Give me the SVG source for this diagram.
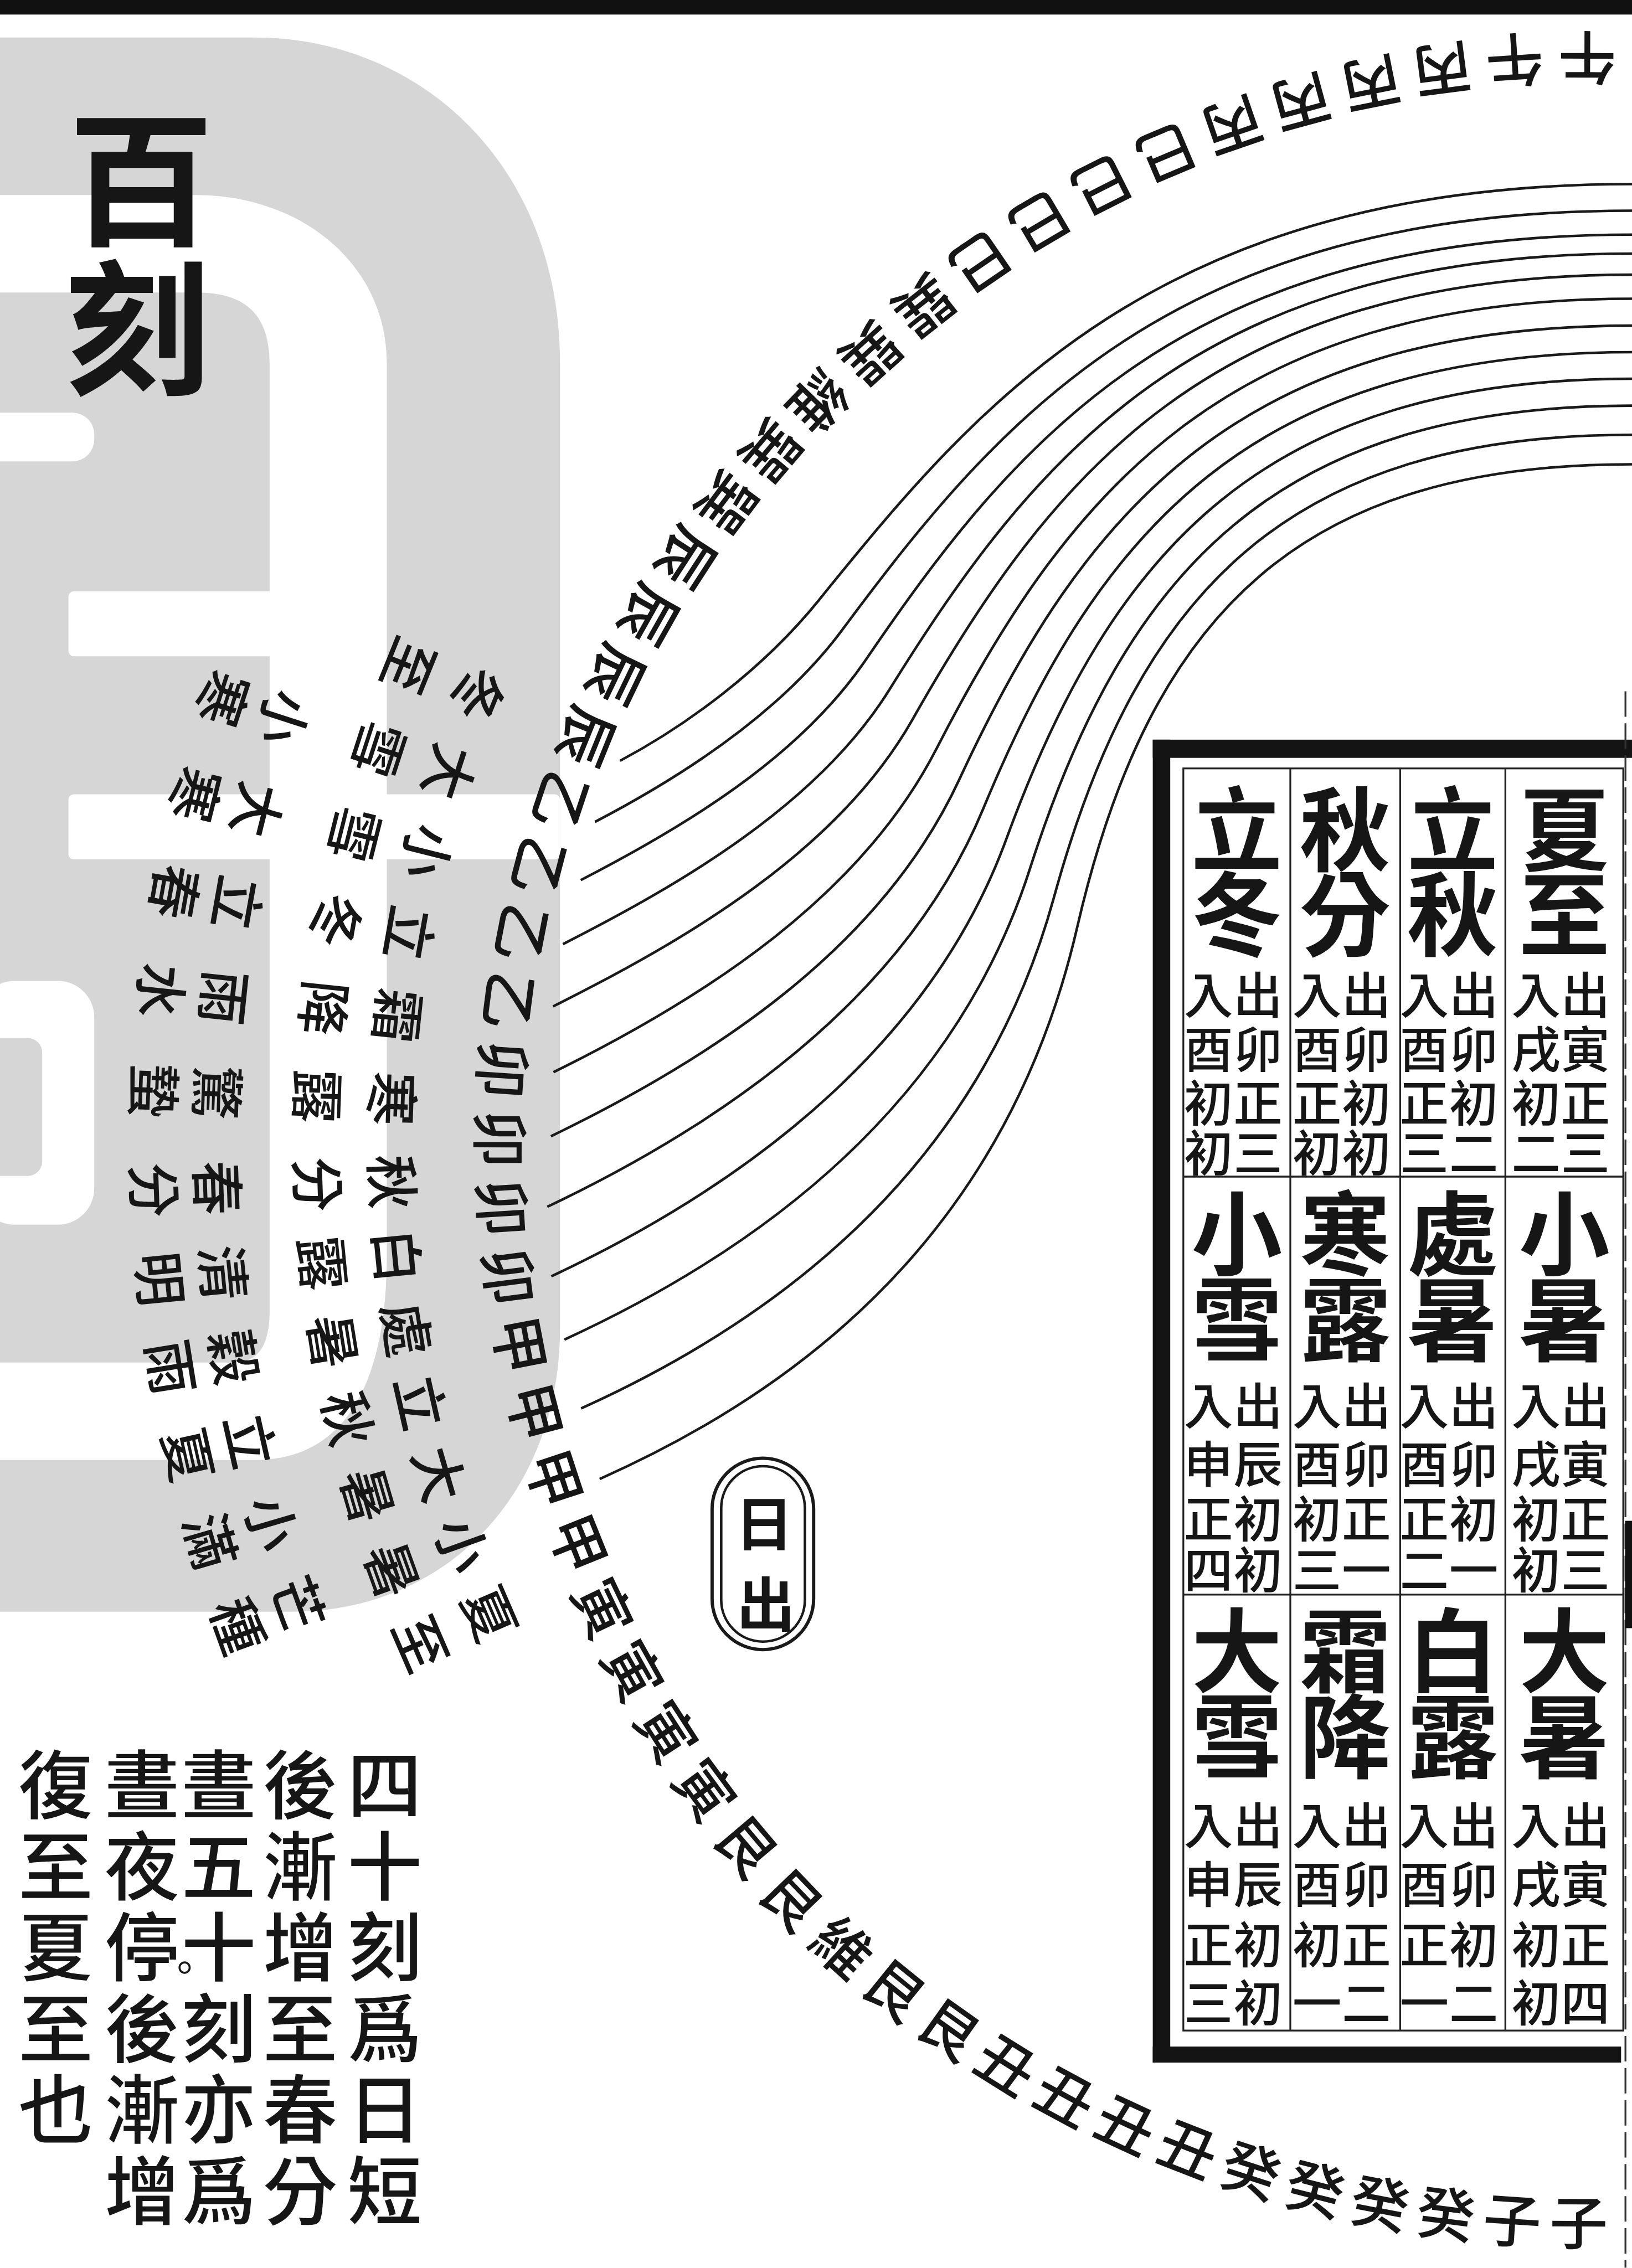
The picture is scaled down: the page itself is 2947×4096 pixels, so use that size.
<svg xmlns="http://www.w3.org/2000/svg" width="2947" height="4096" viewBox="0 0 2947 4096">
<style>
.t{font-family:"Noto Sans CJK TC","Noto Sans CJK SC","Noto Sans CJK JP",sans-serif;fill:#161616;text-anchor:middle;dominant-baseline:central}
.d{font-size:160px;font-weight:500}
.n{font-size:150px;font-weight:500}
.big{font-size:250px;font-weight:bold}
.sm{font-size:135px;font-weight:500}
.title{font-size:400px;font-weight:bold}
.note{font-size:205px;font-weight:500}
.lbl{font-size:160px;font-weight:bold}
.c{fill:none;stroke:#1a1a1a;stroke-width:7}
.tl{stroke:#222;stroke-width:5;fill:none}
</style>
<rect width="2947" height="4096" fill="#ffffff"/>
<g transform="scale(0.65708)">
<rect x="0" y="0" width="4485" height="40" fill="#111"/>
<g id="seal">
<path d="M-20,103 H700 C1150,103 1539,450 1539,1000 V3650 C1539,4100 1230,4430 800,4430 H-20 Z" fill="#d6d6d6"/>
<path d="M-20,536 H540 C820,536 1063,720 1063,1000 V3450 C1063,3800 950,4013 700,4013 H-20 V3745 H640 C710,3745 741,3700 741,3600 V1000 C741,870 680,804 540,804 H-20 Z" fill="#fff"/>
<rect x="-60" y="1134" width="319" height="134" rx="60" fill="#fff"/>
<rect x="188" y="1625" width="600" height="179" rx="15" fill="#fff"/>
<rect x="188" y="2183" width="1351" height="179" rx="15" fill="#fff"/>
<rect x="-60" y="2696" width="319" height="670" rx="100" fill="#fff"/>
<rect x="-60" y="2853" width="176" height="379" rx="40" fill="#d6d6d6"/>
</g>
<g id="title">
<text class="t title" x="388" y="470">百</text>
<text class="t title" x="378" y="880">刻</text>
</g>
<g id="connectors">
<path class="c" d="M4485,506 C3185,506 2690,1106 2250,1650 C2093,1844 1881,1997 1704,2091"/>
<path class="c" d="M4485,579 C3221,579 2743,1155 2314,1732 C2141,1965 1861,2141 1635,2259"/>
<path class="c" d="M4485,645 C3258,645 2794,1205 2379,1814 C2192,2088 1871,2277 1596,2419"/>
<path class="c" d="M4485,697 C3294,697 2842,1255 2444,1896 C2247,2212 1871,2430 1547,2595"/>
<path class="c" d="M4485,755 C3330,755 2889,1305 2508,1977 C2304,2337 1894,2579 1520,2766"/>
<path class="c" d="M4485,821 C3367,821 2934,1356 2573,2059 C2365,2463 1945,2738 1521,2947"/>
<path class="c" d="M4485,895 C3403,895 2977,1407 2637,2141 C2429,2591 1989,2893 1514,3123"/>
<path class="c" d="M4485,968 C3440,968 3018,1458 2702,2223 C2497,2718 2029,3067 1504,3317"/>
<path class="c" d="M4485,1041 C3476,1041 3057,1510 2766,2305 C2568,2847 2091,3238 1515,3508"/>
<path class="c" d="M4485,1115 C3512,1115 3094,1564 2831,2386 C2643,2975 2179,3393 1551,3682"/>
<path class="c" d="M4485,1195 C3549,1195 3129,1618 2896,2468 C2721,3104 2276,3564 1597,3871"/>
<path class="c" d="M4485,1276 C3585,1276 3162,1673 2960,2550 C2802,3232 2379,3740 1648,4065"/>
</g>
<g id="ring-directions" transform="translate(4349 3134)">
<text class="t d" transform="rotate(270.25) translate(2965 0) rotate(-90)">午</text>
<text class="t d" transform="rotate(266.40) translate(2965 0) rotate(-90)">午</text>
<text class="t d" transform="rotate(262.54) translate(2957 0) rotate(-90)">丙</text>
<text class="t d" transform="rotate(258.69) translate(2951 0) rotate(-90)">丙</text>
<text class="t d" transform="rotate(254.83) translate(2945 0) rotate(-90)">丙</text>
<text class="t d" transform="rotate(250.98) translate(2939 0) rotate(-90)">丙</text>
<text class="t d" transform="rotate(247.13) translate(2934 0) rotate(-90)">巳</text>
<text class="t d" transform="rotate(243.27) translate(2928 0) rotate(-90)">巳</text>
<text class="t d" transform="rotate(239.42) translate(2922 0) rotate(-90)">巳</text>
<text class="t d" transform="rotate(235.56) translate(2916 0) rotate(-90)">巳</text>
<text class="t d" transform="rotate(231.71) translate(2911 0) rotate(-90)">巽</text>
<text class="t d" transform="rotate(227.86) translate(2905 0) rotate(-90)">巽</text>
<text class="t d" transform="rotate(224.00) translate(2911 0) rotate(-90)">維</text>
<text class="t d" transform="rotate(220.34) translate(2916 0) rotate(-90)">巽</text>
<text class="t d" transform="rotate(216.68) translate(2922 0) rotate(-90)">巽</text>
<text class="t d" transform="rotate(213.02) translate(2927 0) rotate(-90)">辰</text>
<text class="t d" transform="rotate(209.36) translate(2933 0) rotate(-90)">辰</text>
<text class="t d" transform="rotate(205.70) translate(2938 0) rotate(-90)">辰</text>
<text class="t d" transform="rotate(202.04) translate(2944 0) rotate(-90)">辰</text>
<text class="t d" transform="rotate(198.38) translate(2949 0) rotate(-90)">乙</text>
<text class="t d" transform="rotate(194.72) translate(2955 0) rotate(-90)">乙</text>
<text class="t d" transform="rotate(191.06) translate(2960 0) rotate(-90)">乙</text>
<text class="t d" transform="rotate(187.40) translate(2965 0) rotate(-90)">乙</text>
<text class="t d" transform="rotate(183.74) translate(2965 0) rotate(-90)">卯</text>
<text class="t d" transform="rotate(180.08) translate(2965 0) rotate(-90)">卯</text>
<text class="t d" transform="rotate(176.42) translate(2965 0) rotate(-90)">卯</text>
<text class="t d" transform="rotate(172.76) translate(2965 0) rotate(-90)">卯</text>
<text class="t d" transform="rotate(169.10) translate(2965 0) rotate(-90)">甲</text>
<text class="t d" transform="rotate(165.44) translate(2965 0) rotate(-90)">甲</text>
<text class="t d" transform="rotate(161.78) translate(2965 0) rotate(-90)">甲</text>
<text class="t d" transform="rotate(158.12) translate(2965 0) rotate(-90)">甲</text>
<text class="t d" transform="rotate(154.46) translate(2974 0) rotate(-90)">寅</text>
<text class="t d" transform="rotate(150.80) translate(2980 0) rotate(-90)">寅</text>
<text class="t d" transform="rotate(147.14) translate(2986 0) rotate(-90)">寅</text>
<text class="t d" transform="rotate(143.48) translate(2991 0) rotate(-90)">寅</text>
<text class="t d" transform="rotate(139.82) translate(2997 0) rotate(-90)">艮</text>
<text class="t d" transform="rotate(136.16) translate(3003 0) rotate(-90)">艮</text>
<text class="t d" transform="rotate(132.50) translate(3001 0) rotate(-90)">維</text>
<text class="t d" transform="rotate(128.98) translate(2995 0) rotate(-90)">艮</text>
<text class="t d" transform="rotate(125.45) translate(2990 0) rotate(-90)">艮</text>
<text class="t d" transform="rotate(121.93) translate(2984 0) rotate(-90)">丑</text>
<text class="t d" transform="rotate(118.40) translate(2978 0) rotate(-90)">丑</text>
<text class="t d" transform="rotate(114.88) translate(2973 0) rotate(-90)">丑</text>
<text class="t d" transform="rotate(111.35) translate(2967 0) rotate(-90)">丑</text>
<text class="t d" transform="rotate(107.83) translate(2965 0) rotate(-90)">癸</text>
<text class="t d" transform="rotate(104.30) translate(2965 0) rotate(-90)">癸</text>
<text class="t d" transform="rotate(100.78) translate(2965 0) rotate(-90)">癸</text>
<text class="t d" transform="rotate(97.25) translate(2965 0) rotate(-90)">癸</text>
<text class="t d" transform="rotate(93.73) translate(2965 0) rotate(-90)">子</text>
<text class="t d" transform="rotate(90.20) translate(2965 0) rotate(-90)">子</text>
</g>
<g id="ring-terms" transform="translate(4349 3134)">
<g id="term-00"><text class="t n" transform="rotate(202.00) translate(3265 0) rotate(-90)">冬</text><text class="t n" transform="rotate(202.00) translate(3470 0) rotate(-90)">至</text></g>
<g id="term-01"><text class="t n" transform="rotate(198.00) translate(3265 0) rotate(-90)">大</text><text class="t n" transform="rotate(198.00) translate(3470 0) rotate(-90)">雪</text></g>
<g id="term-02"><text class="t n" transform="rotate(194.00) translate(3265 0) rotate(-90)">小</text><text class="t n" transform="rotate(194.00) translate(3470 0) rotate(-90)">雪</text></g>
<g id="term-03"><text class="t n" transform="rotate(190.00) translate(3265 0) rotate(-90)">立</text><text class="t n" transform="rotate(190.00) translate(3470 0) rotate(-90)">冬</text></g>
<g id="term-04"><text class="t n" transform="rotate(186.00) translate(3265 0) rotate(-90)">霜</text><text class="t n" transform="rotate(186.00) translate(3470 0) rotate(-90)">降</text></g>
<g id="term-05"><text class="t n" transform="rotate(182.00) translate(3265 0) rotate(-90)">寒</text><text class="t n" transform="rotate(182.00) translate(3470 0) rotate(-90)">露</text></g>
<g id="term-06"><text class="t n" transform="rotate(178.00) translate(3265 0) rotate(-90)">秋</text><text class="t n" transform="rotate(178.00) translate(3470 0) rotate(-90)">分</text></g>
<g id="term-07"><text class="t n" transform="rotate(174.43) translate(3265 0) rotate(-90)">白</text><text class="t n" transform="rotate(174.43) translate(3470 0) rotate(-90)">露</text></g>
<g id="term-08"><text class="t n" transform="rotate(170.86) translate(3265 0) rotate(-90)">處</text><text class="t n" transform="rotate(170.86) translate(3470 0) rotate(-90)">暑</text></g>
<g id="term-09"><text class="t n" transform="rotate(167.29) translate(3265 0) rotate(-90)">立</text><text class="t n" transform="rotate(167.29) translate(3470 0) rotate(-90)">秋</text></g>
<g id="term-10"><text class="t n" transform="rotate(163.72) translate(3265 0) rotate(-90)">大</text><text class="t n" transform="rotate(163.72) translate(3470 0) rotate(-90)">暑</text></g>
<g id="term-11"><text class="t n" transform="rotate(160.15) translate(3265 0) rotate(-90)">小</text><text class="t n" transform="rotate(160.15) translate(3470 0) rotate(-90)">暑</text></g>
<g id="term-12"><text class="t n" transform="rotate(156.58) translate(3265 0) rotate(-90)">夏</text><text class="t n" transform="rotate(156.58) translate(3470 0) rotate(-90)">至</text></g>
<g id="term-13"><text class="t n" transform="rotate(198.00) translate(3745 0) rotate(-90)">小</text><text class="t n" transform="rotate(198.00) translate(3920 0) rotate(-90)">寒</text></g>
<g id="term-14"><text class="t n" transform="rotate(194.00) translate(3745 0) rotate(-90)">大</text><text class="t n" transform="rotate(194.00) translate(3920 0) rotate(-90)">寒</text></g>
<g id="term-15"><text class="t n" transform="rotate(190.00) translate(3745 0) rotate(-90)">立</text><text class="t n" transform="rotate(190.00) translate(3920 0) rotate(-90)">春</text></g>
<g id="term-16"><text class="t n" transform="rotate(186.00) translate(3745 0) rotate(-90)">雨</text><text class="t n" transform="rotate(186.00) translate(3920 0) rotate(-90)">水</text></g>
<g id="term-17"><text class="t n" transform="rotate(182.00) translate(3745 0) rotate(-90)">驚</text><text class="t n" transform="rotate(182.00) translate(3920 0) rotate(-90)">蟄</text></g>
<g id="term-18"><text class="t n" transform="rotate(178.00) translate(3745 0) rotate(-90)">春</text><text class="t n" transform="rotate(178.00) translate(3920 0) rotate(-90)">分</text></g>
<g id="term-19"><text class="t n" transform="rotate(174.43) translate(3745 0) rotate(-90)">清</text><text class="t n" transform="rotate(174.43) translate(3920 0) rotate(-90)">明</text></g>
<g id="term-20"><text class="t n" transform="rotate(170.86) translate(3745 0) rotate(-90)">穀</text><text class="t n" transform="rotate(170.86) translate(3920 0) rotate(-90)">雨</text></g>
<g id="term-21"><text class="t n" transform="rotate(167.29) translate(3745 0) rotate(-90)">立</text><text class="t n" transform="rotate(167.29) translate(3920 0) rotate(-90)">夏</text></g>
<g id="term-22"><text class="t n" transform="rotate(163.72) translate(3745 0) rotate(-90)">小</text><text class="t n" transform="rotate(163.72) translate(3920 0) rotate(-90)">滿</text></g>
<g id="term-23"><text class="t n" transform="rotate(160.15) translate(3745 0) rotate(-90)">芒</text><text class="t n" transform="rotate(160.15) translate(3920 0) rotate(-90)">種</text></g>
</g>
<g id="label-richu">
<rect x="1957" y="4008" width="279" height="526" rx="139" fill="none" stroke="#1a1a1a" stroke-width="9"/>
<rect x="1982" y="4030" width="230" height="482" rx="115" fill="none" stroke="#1a1a1a" stroke-width="7"/>
<text class="t lbl" x="2100" y="4178">日</text>
<text class="t lbl" x="2105" y="4400">出</text>
</g>
<g id="table">
<rect x="3168" y="2033" width="1317" height="50" fill="#141414"/>
<rect x="3168" y="2033" width="48" height="3636" fill="#141414"/>
<rect x="3168" y="5625" width="1287" height="44" fill="#141414"/>
<rect x="3252" y="2112" width="1209" height="3469" class="tl"/>
<line x1="3546" y1="2112" x2="3546" y2="5581" class="tl"/>
<line x1="3848" y1="2112" x2="3848" y2="5581" class="tl"/>
<line x1="4137" y1="2112" x2="4137" y2="5581" class="tl"/>
<line x1="3252" y1="3234" x2="4461" y2="3234" class="tl"/>
<line x1="3252" y1="4383" x2="4461" y2="4383" class="tl"/>
<g id="cell-xiazhi"><text class="t big" x="4299" y="2265">夏</text><text class="t big" x="4299" y="2497">至</text>
<text class="t sm"><tspan x="4357" y="2725">出</tspan><tspan x="4357" y="2875">寅</tspan><tspan x="4357" y="3022">正</tspan><tspan x="4357" y="3160">三</tspan><tspan x="4221" y="2725">入</tspan><tspan x="4221" y="2875">戌</tspan><tspan x="4221" y="3022">初</tspan><tspan x="4221" y="3160">二</tspan></text></g>
<g id="cell-liqiu"><text class="t big" x="3992" y="2265">立</text><text class="t big" x="3992" y="2497">秋</text>
<text class="t sm"><tspan x="4050" y="2725">出</tspan><tspan x="4050" y="2875">卯</tspan><tspan x="4050" y="3022">初</tspan><tspan x="4050" y="3160">二</tspan><tspan x="3914" y="2725">入</tspan><tspan x="3914" y="2875">酉</tspan><tspan x="3914" y="3022">正</tspan><tspan x="3914" y="3160">三</tspan></text></g>
<g id="cell-qiufen"><text class="t big" x="3697" y="2265">秋</text><text class="t big" x="3697" y="2497">分</text>
<text class="t sm"><tspan x="3755" y="2725">出</tspan><tspan x="3755" y="2875">卯</tspan><tspan x="3755" y="3022">初</tspan><tspan x="3755" y="3160">初</tspan><tspan x="3619" y="2725">入</tspan><tspan x="3619" y="2875">酉</tspan><tspan x="3619" y="3022">正</tspan><tspan x="3619" y="3160">初</tspan></text></g>
<g id="cell-lidong"><text class="t big" x="3399" y="2265">立</text><text class="t big" x="3399" y="2497">冬</text>
<text class="t sm"><tspan x="3457" y="2725">出</tspan><tspan x="3457" y="2875">卯</tspan><tspan x="3457" y="3022">正</tspan><tspan x="3457" y="3160">三</tspan><tspan x="3321" y="2725">入</tspan><tspan x="3321" y="2875">酉</tspan><tspan x="3321" y="3022">初</tspan><tspan x="3321" y="3160">初</tspan></text></g>
<g id="cell-xiaoshu"><text class="t big" x="4299" y="3375">小</text><text class="t big" x="4299" y="3612">暑</text>
<text class="t sm"><tspan x="4357" y="3855">出</tspan><tspan x="4357" y="4015">寅</tspan><tspan x="4357" y="4165">正</tspan><tspan x="4357" y="4305">三</tspan><tspan x="4221" y="3855">入</tspan><tspan x="4221" y="4015">戌</tspan><tspan x="4221" y="4165">初</tspan><tspan x="4221" y="4305">初</tspan></text></g>
<g id="cell-chushu"><text class="t big" x="3992" y="3375">處</text><text class="t big" x="3992" y="3612">暑</text>
<text class="t sm"><tspan x="4050" y="3855">出</tspan><tspan x="4050" y="4015">卯</tspan><tspan x="4050" y="4165">初</tspan><tspan x="4050" y="4305">一</tspan><tspan x="3914" y="3855">入</tspan><tspan x="3914" y="4015">酉</tspan><tspan x="3914" y="4165">正</tspan><tspan x="3914" y="4305">二</tspan></text></g>
<g id="cell-hanlu"><text class="t big" x="3697" y="3375">寒</text><text class="t big" x="3697" y="3612">露</text>
<text class="t sm"><tspan x="3755" y="3855">出</tspan><tspan x="3755" y="4015">卯</tspan><tspan x="3755" y="4165">正</tspan><tspan x="3755" y="4305">一</tspan><tspan x="3619" y="3855">入</tspan><tspan x="3619" y="4015">酉</tspan><tspan x="3619" y="4165">初</tspan><tspan x="3619" y="4305">三</tspan></text></g>
<g id="cell-xiaoxue"><text class="t big" x="3399" y="3375">小</text><text class="t big" x="3399" y="3612">雪</text>
<text class="t sm"><tspan x="3457" y="3855">出</tspan><tspan x="3457" y="4015">辰</tspan><tspan x="3457" y="4165">初</tspan><tspan x="3457" y="4305">初</tspan><tspan x="3321" y="3855">入</tspan><tspan x="3321" y="4015">申</tspan><tspan x="3321" y="4165">正</tspan><tspan x="3321" y="4305">四</tspan></text></g>
<g id="cell-dashu"><text class="t big" x="4299" y="4522">大</text><text class="t big" x="4299" y="4758">暑</text>
<text class="t sm"><tspan x="4357" y="5009">出</tspan><tspan x="4357" y="5170">寅</tspan><tspan x="4357" y="5335">正</tspan><tspan x="4357" y="5495">四</tspan><tspan x="4221" y="5009">入</tspan><tspan x="4221" y="5170">戌</tspan><tspan x="4221" y="5335">初</tspan><tspan x="4221" y="5495">初</tspan></text></g>
<g id="cell-bailu"><text class="t big" x="3992" y="4522">白</text><text class="t big" x="3992" y="4758">露</text>
<text class="t sm"><tspan x="4050" y="5009">出</tspan><tspan x="4050" y="5170">卯</tspan><tspan x="4050" y="5335">初</tspan><tspan x="4050" y="5495">二</tspan><tspan x="3914" y="5009">入</tspan><tspan x="3914" y="5170">酉</tspan><tspan x="3914" y="5335">正</tspan><tspan x="3914" y="5495">一</tspan></text></g>
<g id="cell-shuangjiang"><text class="t big" x="3697" y="4522">霜</text><text class="t big" x="3697" y="4758">降</text>
<text class="t sm"><tspan x="3755" y="5009">出</tspan><tspan x="3755" y="5170">卯</tspan><tspan x="3755" y="5335">正</tspan><tspan x="3755" y="5495">二</tspan><tspan x="3619" y="5009">入</tspan><tspan x="3619" y="5170">酉</tspan><tspan x="3619" y="5335">初</tspan><tspan x="3619" y="5495">一</tspan></text></g>
<g id="cell-daxue"><text class="t big" x="3399" y="4522">大</text><text class="t big" x="3399" y="4758">雪</text>
<text class="t sm"><tspan x="3457" y="5009">出</tspan><tspan x="3457" y="5170">辰</tspan><tspan x="3457" y="5335">初</tspan><tspan x="3457" y="5495">初</tspan><tspan x="3321" y="5009">入</tspan><tspan x="3321" y="5170">申</tspan><tspan x="3321" y="5335">正</tspan><tspan x="3321" y="5495">三</tspan></text></g>
</g>
<line x1="4467" y1="1900" x2="4467" y2="6233" stroke="#333" stroke-width="5" stroke-dasharray="70 18"/>
<rect x="4466" y="4180" width="19" height="295" fill="#111"/>
<g id="note">
<text class="t note"><tspan x="1057" y="4893">四</tspan><tspan x="1057" y="5116">十</tspan><tspan x="1057" y="5339">刻</tspan><tspan x="1057" y="5562">爲</tspan><tspan x="1057" y="5785">日</tspan><tspan x="1057" y="6008">短</tspan></text>
<text class="t note"><tspan x="825" y="4893">後</tspan><tspan x="825" y="5116">漸</tspan><tspan x="825" y="5339">增</tspan><tspan x="825" y="5562">至</tspan><tspan x="825" y="5785">春</tspan><tspan x="825" y="6008">分</tspan></text>
<text class="t note"><tspan x="601" y="4893">晝</tspan><tspan x="601" y="5116">五</tspan><tspan x="601" y="5339">十</tspan><tspan x="601" y="5562">刻</tspan><tspan x="601" y="5785">亦</tspan><tspan x="601" y="6008">爲</tspan></text>
<text class="t note"><tspan x="390" y="4893">晝</tspan><tspan x="390" y="5116">夜</tspan><tspan x="390" y="5339">停</tspan><tspan x="390" y="5562">後</tspan><tspan x="390" y="5785">漸</tspan><tspan x="390" y="6008">增</tspan></text>
<text class="t" style="font-size:110px;text-anchor:start;dominant-baseline:auto" x="452" y="5450">。</text>
<text class="t note"><tspan x="153" y="4893">復</tspan><tspan x="153" y="5116">至</tspan><tspan x="153" y="5339">夏</tspan><tspan x="153" y="5562">至</tspan><tspan x="153" y="5785">也</tspan></text>
</g>
</g>
</svg>
